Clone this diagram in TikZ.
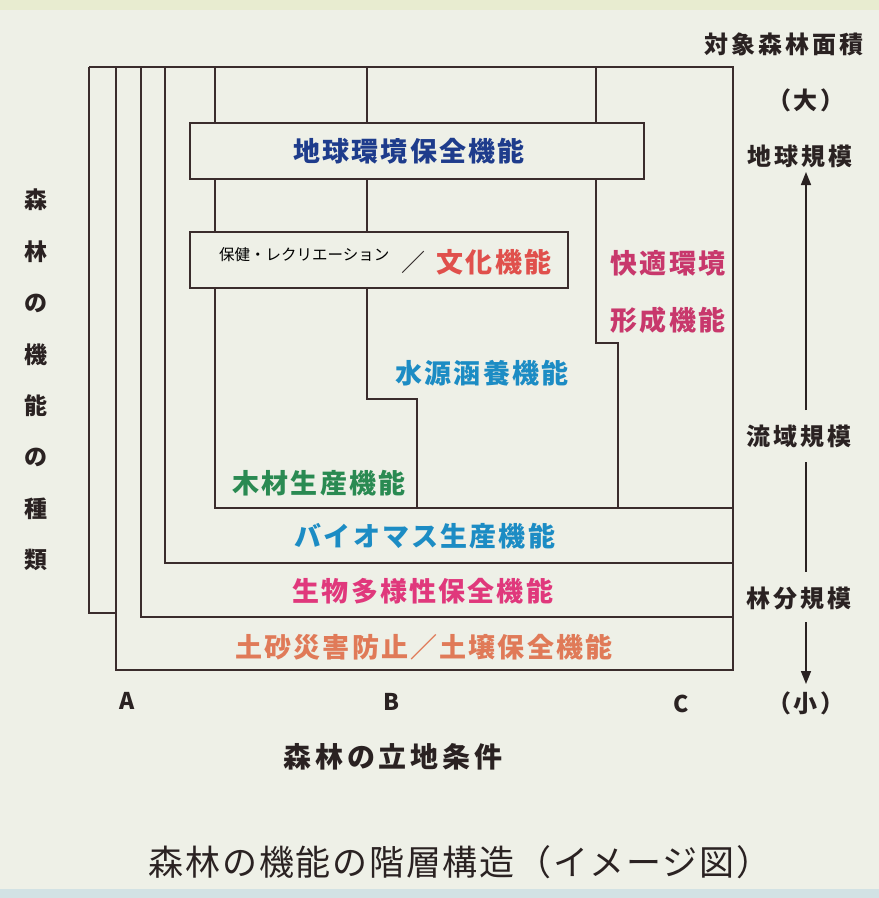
\documentclass[tikz,border=0pt]{standalone}
\usepackage{fontspec}
\usetikzlibrary{arrows.meta}
\newfontfamily\jp{Noto Sans CJK JP}
\newfontfamily\jpsp[LetterSpace=8]{Noto Sans CJK JP}
\newfontfamily\jpr[LetterSpace=12]{Noto Sans CJK JP}
\newfontfamily\jpc[LetterSpace=14]{Noto Sans CJK JP}
\newfontfamily\jpt[LetterSpace=5]{Noto Sans CJK JP}
\definecolor{bgc}{HTML}{EEF0E7}
\definecolor{topc}{HTML}{E8ECD0}
\definecolor{botc}{HTML}{D2E2E4}
\definecolor{lnc}{HTML}{3A2C2C}
\definecolor{cblue}{HTML}{1E3C8C}
\definecolor{cred}{HTML}{E0504C}
\definecolor{cmag}{HTML}{C8386C}
\definecolor{ccyan}{HTML}{1C8CC4}
\definecolor{cgreen}{HTML}{2A8A52}
\definecolor{cpink}{HTML}{E0387C}
\definecolor{corange}{HTML}{E07A58}
\definecolor{ctext}{HTML}{2A2222}
\tikzset{
  ln/.style={draw=lnc, line width=2pt, line join=miter},
  fbox/.style={ln, fill=bgc},
  flabel/.style={inner sep=0pt, font=\jpsp\bfseries\fontsize{27}{27}\selectfont},
  rlabel/.style={inner sep=0pt, text=ctext, font=\jpr\bfseries\fontsize{24}{24}\selectfont},
  abc/.style={inner sep=0pt, text=ctext, font=\jp\bfseries\fontsize{23}{23}\selectfont},
  arr/.style={draw=ctext, line width=1.6pt}
}
\begin{document}
\begin{tikzpicture}[x=1pt,y=-1pt]
\useasboundingbox (0,0) rectangle (879,898);
\fill[bgc] (0,0) rectangle (879,898);
\fill[topc] (0,0) rectangle (879,10);
\fill[botc] (0,889) rectangle (879,898);

% nested frame lines
\draw[ln] (89,67) -- (733,67) -- (733,670) -- (116,670) -- (116,67);
\draw[ln] (89,67) -- (89,613) -- (116,613);
\draw[ln] (141,67) -- (141,617) -- (733,617);
\draw[ln] (165,67) -- (165,563) -- (733,563);
\draw[ln] (215,67) -- (215,508) -- (733,508);
\draw[ln] (367,67) -- (367,399) -- (417,399) -- (417,508);
\draw[ln] (596,67) -- (596,343) -- (618,343) -- (618,508);

% boxes
\draw[fbox] (190,123) rectangle (644,179);
\draw[fbox] (190,232) rectangle (568,288);

% function labels
\node[flabel, text=cblue] (global) at (409,151) {地球環境保全機能};
\node[inner sep=0pt, anchor=west, text=black, font=\jp\fontsize{15.5}{15.5}\selectfont] (hoken) at (219,255) {保健・レクリエーション};
\node[inner sep=0pt, text=ctext, font=\jp\fontsize{24}{24}\selectfont] (slash) at (413,262) {／};
\node[flabel, text=cred] (bunka) at (494,262) {文化機能};
\node[flabel, text=cmag] (kaiteki) at (668,263) {快適環境};
\node[flabel, text=cmag] (keisei) at (668,320) {形成機能};
\node[flabel, text=ccyan] (suigen) at (482,373) {水源涵養機能};
\node[flabel, text=cgreen] (mokuzai) at (319,483) {木材生産機能};
\node[flabel, text=ccyan] (bio) at (425,536) {バイオマス生産機能};
\node[flabel, text=cpink] (seibutsu) at (423,591) {生物多様性保全機能};
\node[flabel, text=corange] (dosha) at (424,647) {土砂災害防止／土壌保全機能};

% right scale
\node[rlabel] (area) at (784,44) {対象森林面積};
\node[rlabel] (dai) at (806,100) {（大）};
\node[rlabel] (chikyu) at (800,156) {地球規模};
\node[rlabel] (ryuiki) at (799,436) {流域規模};
\node[rlabel] (rinpan) at (799,598) {林分規模};
\node[rlabel] (sho) at (806,703) {（小）};
\coordinate (upend) at (806,172);
\coordinate (uptop) at (806,410);
\coordinate (mida) at (806,462);
\coordinate (midb) at (806,572);
\coordinate (dna) at (806,622);
\coordinate (dnb) at (806,684);
\draw[arr, -{Triangle[length=13pt,width=10pt]}] (uptop) -- (upend);
\draw[arr] (mida) -- (midb);
\draw[arr, -{Triangle[length=13pt,width=10pt]}] (dna) -- (dnb);

% left vertical label
\node[inner sep=0pt, text=ctext, align=center, font=\jp\bfseries\fontsize{23}{51.4}\selectfont] (kinds) at (36,380) {森\\林\\の\\機\\能\\の\\種\\類};

% bottom
\node[abc] (A) at (127,701) {A};
\node[abc] (B) at (391,702) {B};
\node[abc] (C) at (681,704) {C};
\node[inner sep=0pt, text=ctext, font=\jpc\bfseries\fontsize{28}{28}\selectfont] (ritchi) at (393,757) {森林の立地条件};
\node[inner sep=0pt, text=ctext, font=\jpt\fontsize{35}{35}\selectfont] (title) at (460,862) {森林の機能の階層構造（イメージ図）};
\end{tikzpicture}
\end{document}
